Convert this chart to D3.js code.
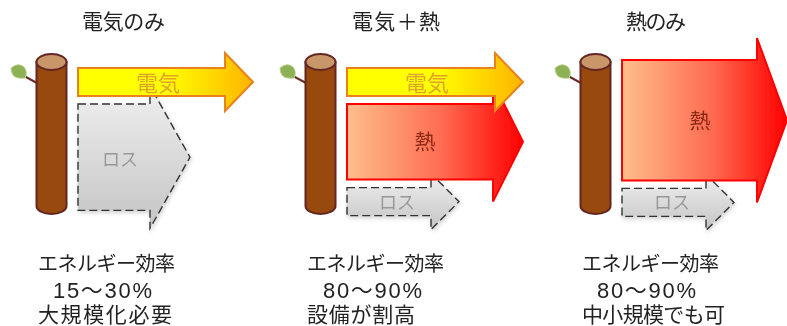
<!DOCTYPE html>
<html lang="ja">
<head>
<meta charset="utf-8">
<script src="https://cdn.jsdelivr.net/npm/d3@7"></script>
<style>
html,body{margin:0;padding:0;background:#fff}
svg{display:block}
text{font-family:"Liberation Sans","Noto Sans CJK JP",sans-serif}
</style>
</head>
<body>
<div id="chart"></div>
<script>
const panels = ["only-electricity", "electricity-heat", "only-heat"];
const titles = ["電気のみ", "電気\uFF0B熱", "熱のみ"];
const efficiency = ["15\uFF5E30%", "80\uFF5E90%", "80\uFF5E90%"];
const notes = ["大規模化必要", "設備が割高", "中小規模でも可"];
const commonLabel = "エネルギー効率";
const electricityFlow = [20, 20, 0];
const heatFlow = [0, 54, 86];
const lossFlow = [76, 20, 20];
const electricityReach = [175, 176, 0];
const heatReach = [0, 176, 165];
const lossReach = [112, 112, 112];

const W = 787, H = 326;
const svg = d3.select("#chart").append("svg").attr("width", W).attr("height", H);
const defs = svg.append("defs");

function grad(id, stops) {
  const g = defs.append("linearGradient").attr("id", id).attr("x1", 0).attr("x2", 1).attr("y1", 0).attr("y2", 0);
  stops.forEach(s => g.append("stop").attr("offset", s[0]).attr("stop-color", s[1]));
}
grad("gElec", [[0, "#ffff00"], [0.5, "#ffff00"], [1, "#ffb400"]]);
grad("gHeat", [[0, "#fdbf8c"], [0.55, "#ff6a50"], [1, "#ff0000"]]);
const gl = defs.append("linearGradient").attr("id", "gLoss").attr("x1", 0).attr("x2", 0).attr("y1", 0).attr("y2", 1);
gl.append("stop").attr("offset", 0).attr("stop-color", "#f0f0f0");
gl.append("stop").attr("offset", 1).attr("stop-color", "#c4c4c4");
const soft = defs.append("filter").attr("id", "soft");
soft.append("feGaussianBlur").attr("stdDeviation", 0.45);
const shadow = defs.append("filter").attr("id", "shadow").attr("x", "-10%").attr("y", "-10%").attr("width", "125%").attr("height", "125%");
shadow.append("feDropShadow").attr("dx", 1).attr("dy", 2).attr("stdDeviation", 2).attr("flood-color", "#000").attr("flood-opacity", 0.18);

const panelX = d3.scaleOrdinal().domain(panels).range([0, 269, 544]);
const titleX = d3.scaleOrdinal().domain(panels).range([82, 352, 626]);
const titleW = d3.scaleOrdinal().domain(panels).range([83, 88, 60]);
const blockX = d3.scaleOrdinal().domain(panels).range([38, 307, 582]);
const effX = d3.scaleOrdinal().domain(panels).range([53, 323, 597]);
const noteW = d3.scaleOrdinal().domain(panels).range([134, 108, 143]);
const thickness = d3.scaleLinear().domain([0, 100]).range([0, 140]);
const reach = d3.scaleLinear().domain([0, 100]).range([0, 100]);

const styles = {
  elec: {fill: "url(#gElec)", stroke: "#e9811c", sw: 2, dash: null, head: 28, flare: 15, text: "電気", color: "#e2a32a", size: 22},
  heat: {fill: "url(#gHeat)", stroke: "#ff0000", sw: 2, dash: null, head: 30, flare: 22, text: "熱", color: "#8c2a18", size: 21},
  loss: {fill: "url(#gLoss)", stroke: "#333", sw: 1.4, dash: "8 4", head: 28, flare: 14, text: "ロス", color: "#989898", size: 18}
};
const line = d3.line();

function arrowPoints(x, top, len, th, head, flare) {
  const bx = x + len - head, mid = top + th / 2, bot = top + th;
  return [[x, top], [bx, top], [bx, top - flare], [x + len, mid], [bx, bot + flare], [bx, bot], [x, bot], [x, top]];
}

const root = svg.append("g").attr("filter", "url(#soft)");

function label(x, y, size, str, width) {
  const t = root.append("text").attr("x", x).attr("y", y).attr("dominant-baseline", "central")
    .attr("font-size", size).attr("fill", "#222").text(str);
  if (width) t.attr("textLength", width).attr("lengthAdjust", "spacing");
}

panels.forEach((p, i) => {
  const dx = panelX(p);
  const g = root.append("g");

  // tree
  const cx = 51.5 + dx;
  const t = g.append("g");
  t.append("path").attr("d", line([[24 + dx, 76], [37 + dx, 83]])).attr("stroke", "#6e2a2a").attr("stroke-width", 2).attr("fill", "none");
  t.append("path").attr("d", `M${11 + dx} 68 Q${18 + dx} 62 ${24 + dx} 67 Q${28 + dx} 72 ${25 + dx} 78 Q${16 + dx} 79 ${13 + dx} 75 Q${11 + dx} 72 ${11 + dx} 68Z`)
    .attr("fill", "#8db255").attr("stroke", "#b8cf8a").attr("stroke-width", 1);
  t.append("path").attr("d", `M${cx - 15} 62 V206 A15 8 0 0 0 ${cx + 15} 206 V62 Z`).attr("fill", "#984807").attr("stroke", "#632523").attr("stroke-width", 2);
  t.append("ellipse").attr("cx", cx).attr("cy", 62).attr("rx", 15).attr("ry", 8).attr("fill", "#c99669").attr("stroke", "#632523").attr("stroke-width", 2);

  // flows, stacked top to bottom
  const startX = 78 + dx;
  const hasElec = electricityFlow[i] > 0;
  let y = hasElec ? 68 : 60;
  const flows = [];
  if (hasElec) { flows.push({k: "elec", v: electricityFlow[i], r: electricityReach[i], top: y}); y += thickness(electricityFlow[i]) + 8; }
  if (heatFlow[i] > 0) { flows.push({k: "heat", v: heatFlow[i], r: heatReach[i], top: y}); y += thickness(heatFlow[i]) + 8; }
  flows.push({k: "loss", v: lossFlow[i], r: lossReach[i], top: y});

  flows.slice().reverse().forEach(f => {
    const st = styles[f.k], th = thickness(f.v), len = reach(f.r);
    const big = th > 60;
    const head = f.k === "loss" && big ? 40 : st.head;
    const flare = f.k === "loss" && big ? 18 : st.flare;
    const pts = arrowPoints(startX, f.top, len, th, head, flare);
    const a = g.append("path").attr("d", line(pts) + "Z").attr("fill", st.fill).attr("stroke", st.stroke)
      .attr("stroke-width", st.sw).attr("stroke-linejoin", "miter");
    if (st.dash) a.attr("stroke-dasharray", st.dash).attr("filter", "url(#shadow)");
  });

  flows.forEach(f => {
    const st = styles[f.k], th = thickness(f.v);
    const labelOffset = f.k === "elec" ? 80 : f.k === "heat" ? 78 : (th > 60 ? 42 : 50);
    const nudge = f.k === "elec" ? 1 : f.k === "loss" ? (th > 60 ? 3 : 1) : 0;
    g.append("text").attr("x", startX + labelOffset).attr("y", f.top + th / 2 + nudge)
      .attr("text-anchor", "middle").attr("dominant-baseline", "central")
      .attr("font-size", st.size).attr("fill", st.color).text(st.text);
  });

  // titles & notes
  label(titleX(p), 21, 21, titles[i], titleW(p));
  label(blockX(p), 264, 20, commonLabel, 137);
  label(effX(p), 290, 22, efficiency[i], 99);
  label(blockX(p), 314, 21, notes[i], noteW(p));
});
</script>
</body>
</html>
